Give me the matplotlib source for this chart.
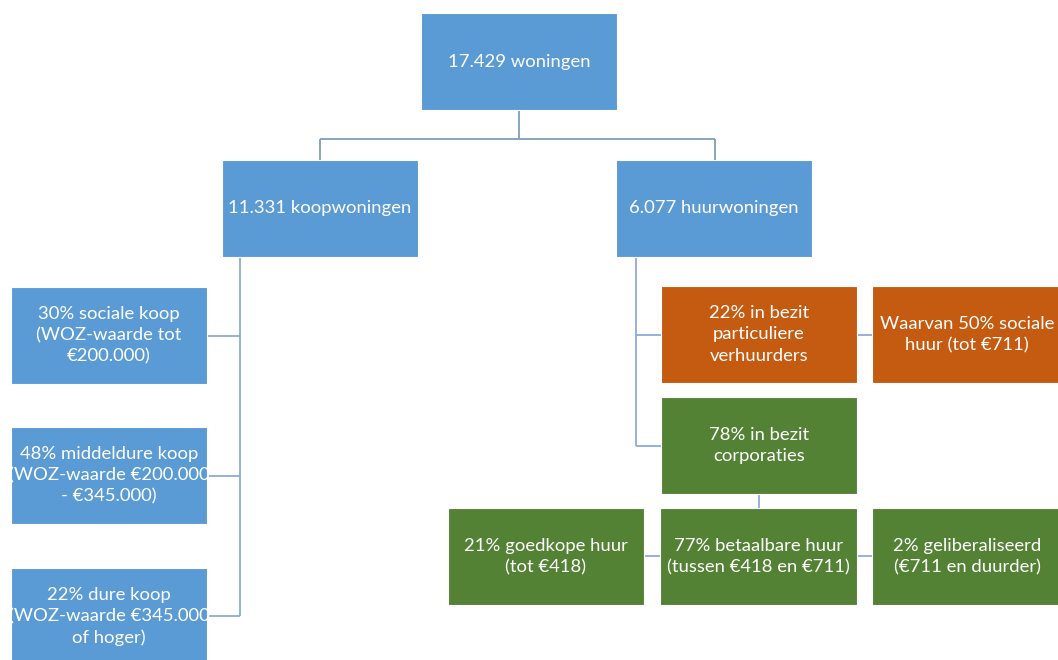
import matplotlib
matplotlib.use("Agg")
import matplotlib.pyplot as plt
from matplotlib.patches import Rectangle

plt.rcParams['font.family'] = ['Lato', 'DejaVu Sans']

# Text content of the nodes
labels = [
    "17.429 woningen",
    "11.331 koopwoningen",
    "6.077 huurwoningen",
    "30% sociale koop\n(WOZ-waarde tot\n€200.000)",
    "48% middeldure koop\n(WOZ-waarde €200.000\n- €345.000)",
    "22% dure koop\n(WOZ-waarde €345.000\nof hoger)",
    "22% in bezit\nparticuliere\nverhuurders",
    "Waarvan 50% sociale\nhuur (tot €711)",
    "78% in bezit\ncorporaties",
    "21% goedkope huur\n(tot €418)",
    "77% betaalbare huur\n(tussen €418 en €711)",
    "2% geliberaliseerd\n(€711 en duurder)",
]
# layout (pixels): x0, y0, x1, y1
boxes = [
    (421, 13, 617, 110),
    (222, 160, 418, 257),
    (616, 160, 812, 257),
    (11, 287, 207, 384),
    (11, 427, 207, 524),
    (11, 568, 207, 665),
    (661, 286, 857, 383),
    (872, 286, 1062, 383),
    (661, 397, 857, 494),
    (448, 508, 644, 605),
    (660, 508, 857, 605),
    (872, 508, 1062, 605),
]
BLUE, ORANGE, GREEN = '#5B9BD5', '#C55A11', '#548235'
colors = [BLUE, BLUE, BLUE, BLUE, BLUE, BLUE, ORANGE, ORANGE, GREEN, GREEN, GREEN, GREEN]

fig = plt.figure(figsize=(10.58, 6.6), dpi=100)
ax = fig.add_axes([0, 0, 1, 1])
ax.set_xlim(0, 1058)
ax.set_ylim(660, 0)
ax.axis('off')

LC = '#8EAADB'
def line(xs, ys, c=LC):
    ax.plot(xs, ys, color=c, lw=1.3, solid_capstyle='butt', zorder=1)

# connectors
line([519, 519], [110, 139], '#7F9DB9')
line([320, 715], [139, 139], '#7F9DB9')
line([320, 320], [139, 160], '#7F9DB9')
line([715, 715], [139, 160], '#7F9DB9')
# koop children
line([240, 240], [257, 616])
for yc in (335.5, 475.5, 616):
    line([207, 240], [yc, yc])
# huur children
line([636, 636], [257, 446])
line([636, 661], [335, 335])
line([636, 661], [446, 446])
line([857, 872], [335, 335])
# corporaties children
line([759, 759], [494, 508])
line([644, 660], [556, 556])
line([857, 872], [556, 556])

for (x0, y0, x1, y1), lab, c in zip(boxes, labels, colors):
    ax.add_patch(Rectangle((x0, y0), x1 - x0, y1 - y0, facecolor=c,
                           edgecolor='white', lw=0.8, zorder=2))
    ax.text((x0 + x1) / 2, (y0 + y1) / 2, lab, ha='center', va='center',
            color='white', fontsize=13.3, linespacing=1.4, zorder=3)

fig.savefig('out.png', dpi=100)
